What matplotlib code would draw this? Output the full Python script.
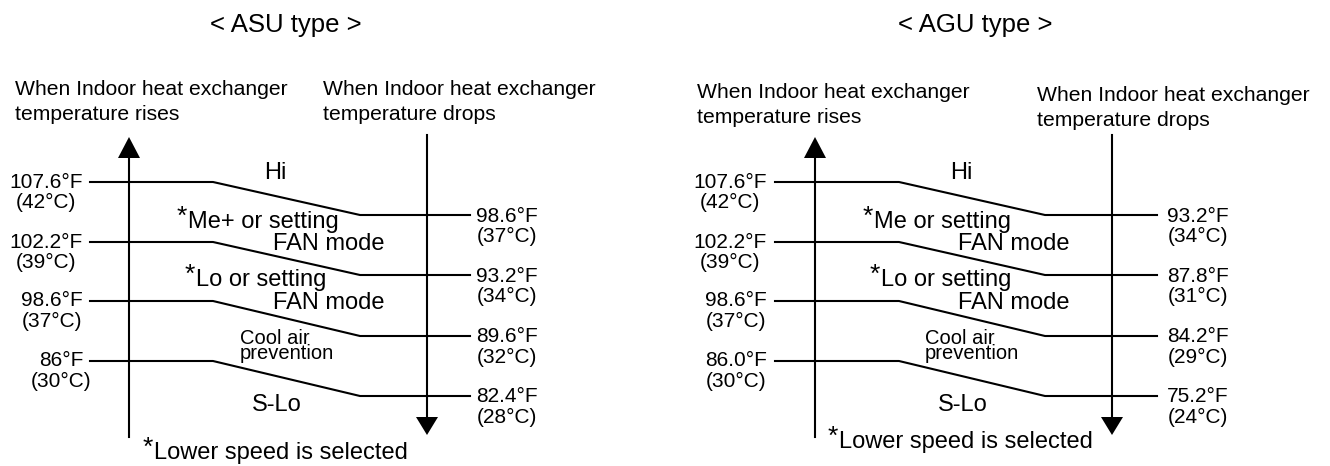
import matplotlib.pyplot as plt

plt.rcParams['font.family'] = ['Liberation Sans', 'DejaVu Sans']

# ------------------------------------------------------------
# Chart data
# ------------------------------------------------------------
titles = ['< ASU type >', '< AGU type >']
rise_header = 'When Indoor heat exchanger\ntemperature rises'
drop_header = 'When Indoor heat exchanger\ntemperature drops'
footnote = 'Lower speed is selected'

asu_rise_f = ['107.6°F', '102.2°F', '98.6°F', '86°F']
asu_rise_c = ['(42°C)', '(39°C)', '(37°C)', '(30°C)']
asu_drop_f = ['98.6°F', '93.2°F', '89.6°F', '82.4°F']
asu_drop_c = ['(37°C)', '(34°C)', '(32°C)', '(28°C)']
asu_speeds = ['Hi', 'Me+ or setting', 'Lo or setting', 'Cool air\nprevention', 'S-Lo']

agu_rise_f = ['107.6°F', '102.2°F', '98.6°F', '86.0°F']
agu_rise_c = ['(42°C)', '(39°C)', '(37°C)', '(30°C)']
agu_drop_f = ['93.2°F', '87.8°F', '84.2°F', '75.2°F']
agu_drop_c = ['(34°C)', '(31°C)', '(29°C)', '(24°C)']
agu_speeds = ['Hi', 'Me or setting', 'Lo or setting', 'Cool air\nprevention', 'S-Lo']

fan_mode = 'FAN mode'

# ------------------------------------------------------------
# Layout (pixel coordinates of the figure)
# ------------------------------------------------------------
rise_y = [182, 242, 301, 361]      # level heights on the rising side
drop_y = [215, 275, 336, 396]      # level heights on the dropping side

layouts = [
    dict(title_x=286, up_x=129, dn_x=427, start=90, bend_l=213, bend_r=360, end=470,
         lab_l=83, lab_r=476, hdr_l=(15, 80), hdr_r=(323, 80),
         hi_x=275, me_x=177, lo_x=185, fan_x=273, cool_x=240, slo_x=252,
         foot=(143, 453)),
    dict(title_x=975, up_x=815, dn_x=1112, start=775, bend_l=899, bend_r=1045, end=1157,
         lab_l=767, lab_r=1167, hdr_l=(697, 83), hdr_r=(1037, 86),
         hi_x=961, me_x=863, lo_x=870, fan_x=958, cool_x=925, slo_x=938,
         foot=(828, 442)),
]

panels = [
    (asu_rise_f, asu_rise_c, asu_drop_f, asu_drop_c, asu_speeds),
    (agu_rise_f, agu_rise_c, agu_drop_f, agu_drop_c, agu_speeds),
]

fig = plt.figure(figsize=(13.3, 4.66), dpi=100)
ax = fig.add_axes([0, 0, 1, 1])
ax.set_xlim(0, 1330)
ax.set_ylim(466, 0)
ax.axis('off')

LW = 1.5
TEMP_FS = 15
MODE_FS = 17


def temp_label(x, y, f_txt, c_txt, ha):
    # Fahrenheit on top, Celsius centred underneath
    t = ax.text(x, y, f_txt, ha=ha, va='center', fontsize=TEMP_FS)
    ax.annotate(c_txt, xy=(0.5, 0.5), xycoords=t, xytext=(0, -14.5),
                textcoords='offset points', ha='center', va='center',
                fontsize=TEMP_FS)


def starred(x, y, txt, fs=MODE_FS):
    ax.text(x, y - 5, '*', ha='left', va='center', fontsize=fs + 2)
    ax.text(x + 11, y, txt, ha='left', va='center', fontsize=fs)


for (rf, rc, df, dc, speeds), lay, title in zip(panels, layouts, titles):
    ax.text(lay['title_x'], 25, title, ha='center', va='center', fontsize=18.5)

    # headers
    ax.text(*lay['hdr_l'], rise_header, ha='left', va='top', fontsize=15.2,
            linespacing=1.4)
    ax.text(*lay['hdr_r'], drop_header, ha='left', va='top', fontsize=15.2,
            linespacing=1.4)

    # vertical arrows
    ax.plot([lay['up_x'], lay['up_x']], [437, 158], color='black', lw=LW)
    ax.fill([lay['up_x'] - 11, lay['up_x'] + 11, lay['up_x']], [158, 158, 137],
            color='black', lw=0)
    ax.plot([lay['dn_x'], lay['dn_x']], [135, 417], color='black', lw=LW)
    ax.fill([lay['dn_x'] - 11, lay['dn_x'] + 11, lay['dn_x']], [417, 417, 435],
            color='black', lw=0)

    # switching lines
    for yl, yr, f1, c1, f2, c2 in zip(rise_y, drop_y, rf, rc, df, dc):
        ax.plot([lay['start'], lay['bend_l'], lay['bend_r'], lay['end']],
                [yl, yl, yr, yr], color='black', lw=LW)
        temp_label(lay['lab_l'], yl, f1, c1, 'right')
        temp_label(lay['lab_r'], yr + 1, f2, c2, 'left')

    # fan speed labels
    ax.text(lay['hi_x'], 173, speeds[0], ha='center', va='center', fontsize=MODE_FS)
    starred(lay['me_x'], 222, speeds[1])
    ax.text(lay['fan_x'], 244, fan_mode, ha='left', va='center', fontsize=MODE_FS)
    starred(lay['lo_x'], 280, speeds[2])
    ax.text(lay['fan_x'], 303, fan_mode, ha='left', va='center', fontsize=MODE_FS)
    ax.text(lay['cool_x'], 346, speeds[3], ha='left', va='center', fontsize=14.5,
            linespacing=0.75)
    ax.text(lay['slo_x'], 405, speeds[4], ha='left', va='center', fontsize=MODE_FS)
    starred(*lay['foot'], footnote)

fig.savefig('out.png', dpi=100)
